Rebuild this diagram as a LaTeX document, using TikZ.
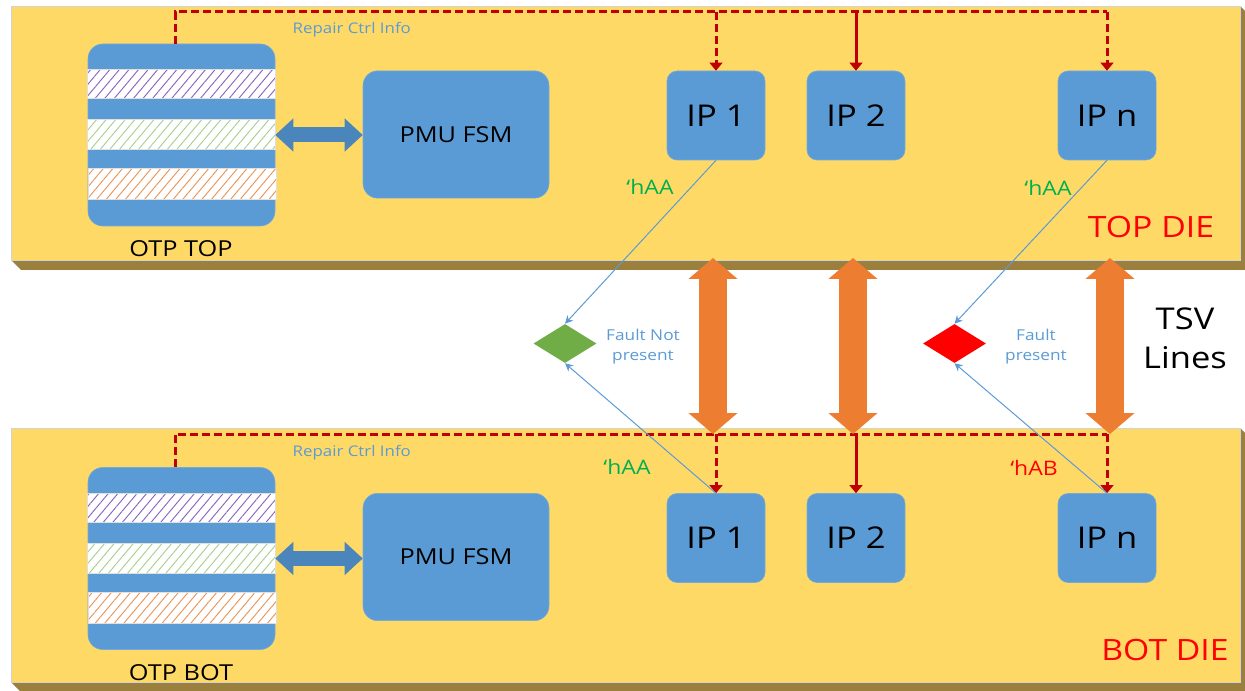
\documentclass[tikz,border=0pt]{standalone}
\usepackage{fontspec}
\setmainfont{Open Sans}[FakeStretch=1.15]
\usetikzlibrary{arrows.meta,shapes.geometric,patterns.meta}
\definecolor{dieface}{HTML}{FFD966}
\definecolor{dieside}{HTML}{9A803C}
\definecolor{boxblue}{HTML}{5B9BD5}
\definecolor{arrblue}{HTML}{4A86BC}
\definecolor{tsvorange}{HTML}{ED7D31}
\definecolor{ctrlred}{HTML}{C00000}
\definecolor{okgreen}{HTML}{70AD47}
\definecolor{hexgreen}{HTML}{00B050}
\definecolor{hpurple}{HTML}{8E63C0}
\definecolor{hgreen}{HTML}{A9D18E}
\definecolor{horange}{HTML}{E8955A}
\tikzset{
  blk/.style={fill=boxblue, draw=boxblue!85!white, line width=0.4pt, rounded corners=7.5pt, inner sep=0pt, text=black},
  ipbox/.style={blk, minimum width=73.5pt, minimum height=66.75pt, font=\fontsize{22.5}{26}\selectfont},
  pmubox/.style={blk, rounded corners=11pt, minimum width=139.5pt, minimum height=95.5pt, font=\fontsize{16.5}{20}\selectfont},
  otpbox/.style={blk, rounded corners=11pt, minimum width=140.25pt, minimum height=136.5pt},
  stripe/.style={draw=gray!25, line width=0.75pt, preaction={fill=white}, pattern={Lines[angle=50,distance=5.5pt,line width=0.7pt]}},
  ctrl/.style={draw=ctrlred, line width=2.25pt, dash pattern=on 6pt off 3pt, line join=miter},
  ctrlarrow/.style={ctrl, -{Triangle[length=6pt,width=9.5pt]}},
  probe/.style={draw=boxblue, line width=0.75pt, -{Stealth[length=6pt,width=6pt]}},
  tsv/.style={draw=tsvorange, line width=21pt, {Triangle[length=15.75pt,width=36pt]}-{Triangle[length=15.75pt,width=36pt]}},
  bus/.style={draw=arrblue, line width=11.25pt, {Triangle[length=13.5pt,width=24pt]}-{Triangle[length=13.5pt,width=24pt]}},
  fault/.style={diamond, inner sep=0pt, minimum width=47.25pt, minimum height=29.25pt},
  smalltxt/.style={text=boxblue, font=\fontsize{11}{13}\selectfont},
  faulttxt/.style={text=boxblue, align=center, font=\fontsize{11.25}{15}\selectfont},
  hextxt/.style={font=\fontsize{15}{18}\selectfont},
  dietxt/.style={text=red, font=\fontsize{22}{26}\selectfont},
  otptxt/.style={font=\fontsize{16.5}{20}\selectfont},
}
\newcommand\otpStripes[1]{%
  \begin{scope}[shift={(#1.north west)}]
    \draw[stripe, pattern color=hpurple] (0,26) rectangle (188,55);
    \draw[stripe, pattern color=hgreen] (0,76) rectangle (188,106);
    \draw[stripe, pattern color=horange] (1,125) rectangle (189,156);
  \end{scope}}
\begin{document}
\begin{tikzpicture}[x=0.75pt,y=-0.75pt]
\useasboundingbox (0,0) rectangle (1245,691);
% ---- dies ----
\fill[dieside] (11,260) -- (21,270) -- (1250,270) -- (1250,16) -- (1240,6) -- cycle;
\draw[draw=gray!35, fill=dieface, line width=0.6pt] (11,6) rectangle (1240,260);
\fill[dieside] (11,682) -- (21,692) -- (1250,692) -- (1250,438) -- (1240,428) -- cycle;
\draw[draw=gray!35, fill=dieface, line width=0.6pt] (11,428) rectangle (1240,682);

% ---- top die blocks ----
\node[otpbox] (otpT) at (181.5,135) {};
\otpStripes{otpT}
\node[pmubox] (pmuT) at (456,134.5) {PMU FSM};
\node[ipbox] (ip1T) at (716,115.5) {IP 1};
\node[ipbox] (ip2T) at (856,115.5) {IP 2};
\node[ipbox] (ipnT) at (1107,115.5) {IP n};
\node[otptxt] (otpTlbl) at (181,249) {OTP TOP};
\node[smalltxt, anchor=west] (repT) at (288,30) {Repair Ctrl Info};
\node[dietxt] (dieT) at (1151,227) {TOP DIE};
\node[hextxt, text=hexgreen] (h1T) at (650,187) {‘hAA};
\node[hextxt, text=hexgreen] (hnT) at (1048,188) {‘hAA};

% ---- bottom die blocks ----
\node[otpbox] (otpB) at (181.5,558.5) {};
\otpStripes{otpB}
\node[pmubox] (pmuB) at (456,557) {PMU FSM};
\node[ipbox] (ip1B) at (716,538) {IP 1};
\node[ipbox] (ip2B) at (856,538) {IP 2};
\node[ipbox] (ipnB) at (1107,538) {IP n};
\node[otptxt] (otpBlbl) at (181,673) {OTP BOT};
\node[smalltxt, anchor=west] (repB) at (288,453) {Repair Ctrl Info};
\node[dietxt] (dieB) at (1165,650) {BOT DIE};
\node[hextxt, text=hexgreen] (h1B) at (627,467) {‘hAA};
\node[hextxt, text=red] (hnB) at (1034,468) {‘hAB};

% ---- OTP <-> PMU buses ----
\draw[bus] (otpT.east) -- (pmuT.west |- otpT.east);
\draw[bus] (otpB.east) -- (pmuB.west |- otpB.east);

% ---- repair control lines ----
\coordinate (ctlT) at (175,12);
\coordinate (ctlB) at (175,434);
\draw[ctrl] (otpT.north -| ctlT) -- (ctlT) -- (ctlT -| ipnT.north);
\draw[ctrlarrow] (ctlT -| ipnT.north) -- (ipnT.north);
\draw[ctrlarrow] (ctlT -| ip1T.north) -- (ip1T.north);
\draw[ctrlarrow, solid] (ctlT -| ip2T.north) -- (ip2T.north);
\draw[ctrl] (otpB.north -| ctlB) -- (ctlB) -- (ctlB -| ipnB.north);
\draw[ctrlarrow] (ctlB -| ipnB.north) -- (ipnB.north);
\draw[ctrlarrow] (ctlB -| ip1B.north) -- (ip1B.north);
\draw[ctrlarrow, solid] (ctlB -| ip2B.north) -- (ip2B.north);

% ---- TSV lines ----
\coordinate (t1a) at (713,258); \coordinate (t1b) at (713,434);
\coordinate (t2a) at (853,258); \coordinate (t2b) at (853,434);
\coordinate (t3a) at (1110,258); \coordinate (t3b) at (1110,434);
\draw[tsv] (t1a) -- (t1b);
\draw[tsv] (t2a) -- (t2b);
\draw[tsv] (t3a) -- (t3b);
\node[font=\fontsize{22.5}{29.25}\selectfont, align=center] (tsvlbl) at (1185,338) {TSV\\Lines};

% ---- comparators ----
\node[fault, fill=okgreen] (okD) at (565,343.5) {};
\node[fault, fill=red] (badD) at (954.5,343.5) {};
\node[faulttxt] (okTxt) at (643,347) {Fault Not\\present};
\node[faulttxt] (badTxt) at (1036,347) {Fault\\present};
\draw[probe] (ip1T.south) -- (okD.north);
\draw[probe] (ip1B.north) -- (okD.south);
\draw[probe] (ipnT.south) -- (badD.north);
\draw[probe] (ipnB.north) -- (badD.south);
\end{tikzpicture}
\end{document}
